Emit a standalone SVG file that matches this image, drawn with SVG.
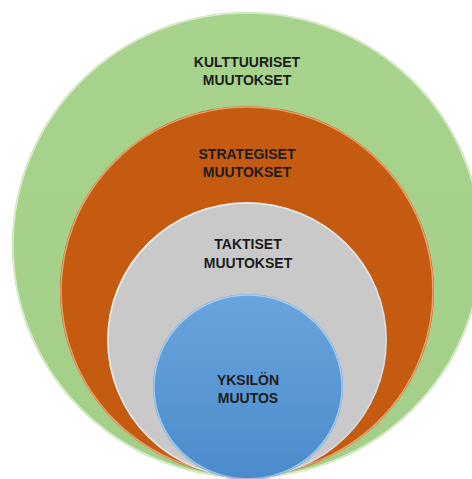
<svg xmlns="http://www.w3.org/2000/svg" width="472" height="479" viewBox="0 0 472 479">
  <style>
    .label { font-family: "Liberation Sans", Arial, sans-serif; font-weight: bold; font-size: 14px; fill: #1c1c1c; text-anchor: middle; }
    .rim { fill: none; stroke-width: 1.5; }
  </style>
  <defs>
    <linearGradient id="gBlue" x1="0" y1="0" x2="0" y2="1">
      <stop offset="0" stop-color="#6AA4DC"/>
      <stop offset="1" stop-color="#4B8BCB"/>
    </linearGradient>
    <linearGradient id="gGreen" x1="0" y1="0" x2="0" y2="1">
      <stop offset="0" stop-color="#A8D38D"/>
      <stop offset="1" stop-color="#A3CF88"/>
    </linearGradient>
    <!-- bevel highlight: bright at top and lower left, fading elsewhere -->
    <linearGradient id="gRim" x1="0" y1="0" x2="1" y2="1">
      <stop offset="0" stop-color="#ffffff" stop-opacity="0.8"/>
      <stop offset="0.5" stop-color="#ffffff" stop-opacity="0.5"/>
      <stop offset="1" stop-color="#ffffff" stop-opacity="0.2"/>
    </linearGradient>
  </defs>
  <rect width="472" height="479" fill="#ffffff"/>

  <g id="kulttuuriset">
    <ellipse cx="247" cy="245" rx="235" ry="233" fill="url(#gGreen)"/>
    <ellipse class="rim" cx="247" cy="245" rx="234" ry="232" stroke="#E6F3DC" stroke-opacity="0.8"/>
    <text class="label" x="247" y="67">KULTTUURISET</text>
    <text class="label" x="247" y="85">MUUTOKSET</text>
  </g>

  <g id="strategiset">
    <ellipse cx="247" cy="291" rx="187" ry="185" fill="#C55A11"/>
    <ellipse class="rim" cx="247" cy="291" rx="186" ry="184" stroke="#F4B183" stroke-opacity="0.8"/>
    <text class="label" x="247" y="159">STRATEGISET</text>
    <text class="label" x="247" y="177">MUUTOKSET</text>
  </g>

  <g id="taktiset">
    <ellipse cx="247" cy="340" rx="140" ry="138" fill="#C9C9C9"/>
    <ellipse class="rim" cx="247" cy="340" rx="139" ry="137" stroke="url(#gRim)"/>
    <text class="label" x="248" y="249">TAKTISET</text>
    <text class="label" x="248" y="268">MUUTOKSET</text>
  </g>

  <g id="yksilon">
    <ellipse cx="248" cy="387" rx="95" ry="93" fill="url(#gBlue)"/>
    <ellipse class="rim" cx="248" cy="387" rx="94" ry="92" stroke="#BFE0FA" stroke-opacity="0.7"/>
    <text class="label" x="248" y="385">YKSILÖN</text>
    <text class="label" x="248" y="403">MUUTOS</text>
  </g>

  <g id="connectors"/>
</svg>
